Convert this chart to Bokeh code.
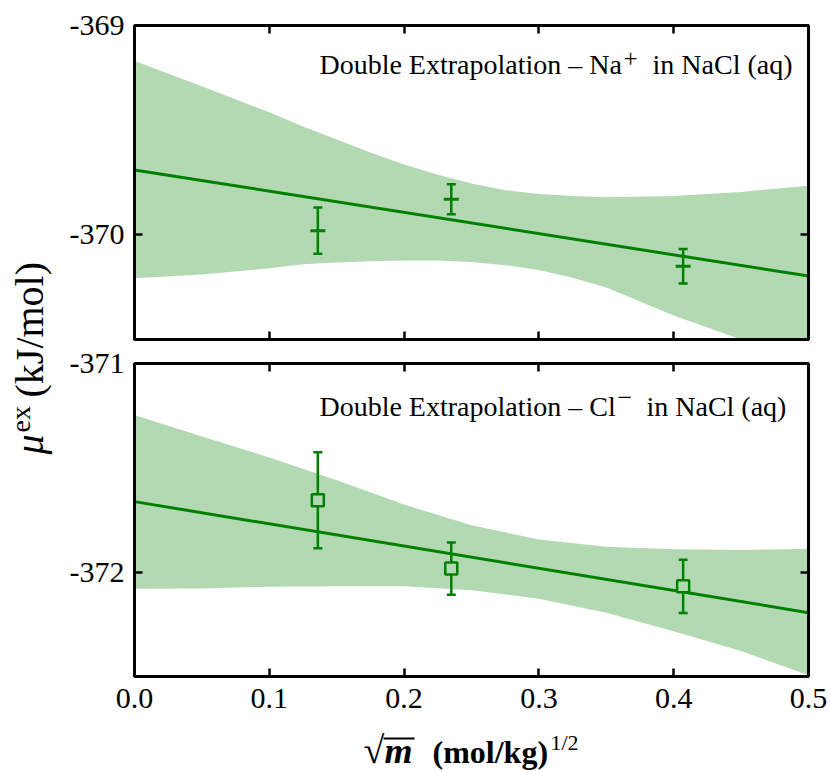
from bokeh.plotting import figure
from bokeh.models import Range1d, LinearAxis, FixedTicker, Label
from bokeh.layouts import row, column
from bokeh.embed import file_html
from bokeh.resources import INLINE

# ---------------- data ----------------
x_ticks = [0.0, 0.1, 0.2, 0.3, 0.4, 0.5]
x_tick_labels = ["0.0", "0.1", "0.2", "0.3", "0.4", "0.5"]
y_ticks_na = [-370.0, -369.0]
y_tick_labels_na = ["-370", "-369"]
y_ticks_cl = [-372.0, -371.0]
y_tick_labels_cl = ["-372", "-371"]

sqrt_m = [0.136, 0.235, 0.407]

mu_na = [-369.98, -369.83, -370.15]
err_na = [0.11, 0.072, 0.082]
mu_cl = [-371.655, -371.983, -372.068]
err_cl = [0.23, 0.125, 0.128]

fit_x = [0.0, 0.5]
fit_na = [-369.69, -370.197]
fit_cl = [-371.662, -372.194]

na_band_x = [0.0, 0.05, 0.1, 0.125, 0.15, 0.175, 0.2, 0.225, 0.25, 0.275, 0.3, 0.325, 0.35, 0.4, 0.45, 0.5]
na_upper = [-369.17, -369.29, -369.415, -369.482, -369.545, -369.607, -369.664, -369.713, -369.755, -369.787,
            -369.805, -369.815, -369.82, -369.815, -369.795, -369.765]
na_lower = [-370.208, -370.19, -370.16, -370.14, -370.132, -370.126, -370.123, -370.123, -370.13, -370.145,
            -370.168, -370.205, -370.252, -370.385, -370.50, -370.63]

cl_band_x = [0.0, 0.05, 0.1, 0.15, 0.2, 0.25, 0.3, 0.35, 0.4, 0.45, 0.5]
cl_upper = [-371.247, -371.35, -371.45, -371.56, -371.676, -371.775, -371.843, -371.878, -371.89, -371.894, -371.888]
cl_lower = [-372.08, -372.078, -372.07, -372.068, -372.067, -372.087, -372.127, -372.194, -372.283, -372.378, -372.494]

GREEN = "#008000"
SERIF = "Liberation Serif"
BASE = 0.32  # lift that puts a Label's visible baseline where it is asked for


def add_axes(p, y_ticks, y_labels, show_x_labels):
    specs = [
        ("left", y_ticks, dict(zip(y_ticks, y_labels)), True),
        ("right", y_ticks, {}, False),
        ("above", x_ticks, {}, False),
        ("below", x_ticks, dict(zip(x_ticks, x_tick_labels)), show_x_labels),
    ]
    for loc, ticks, overrides, labelled in specs:
        ax = LinearAxis(ticker=FixedTicker(ticks=ticks))
        ax.major_tick_in = 8
        ax.major_tick_out = 0
        ax.major_tick_line_width = 2.5
        ax.major_tick_line_color = "black"
        ax.minor_tick_line_color = None
        ax.axis_line_color = "black"
        ax.axis_line_width = 3
        if labelled:
            ax.major_label_overrides = overrides
            ax.major_label_text_font = SERIF
            ax.major_label_text_font_size = "30px"
            ax.major_label_text_color = "black"
            ax.major_label_standoff = 12 if loc == "below" else 10
        else:
            ax.major_label_text_font_size = "0px"
            ax.major_label_text_color = None
            ax.major_label_standoff = 0
        p.add_layout(ax, loc)


def make_panel(height, y_range, border_top, border_bottom, y_ticks, y_labels, show_x_labels):
    p = figure(width=772, height=height, x_range=Range1d(0.0, 0.5), y_range=y_range,
               output_backend="svg", toolbar_location=None,
               x_axis_location=None, y_axis_location=None,
               min_border_left=76, min_border_right=22,
               min_border_top=border_top, min_border_bottom=border_bottom)
    p.outline_line_color = "black"
    p.outline_line_width = 3
    p.background_fill_color = "white"
    p.border_fill_color = "white"
    p.grid.visible = False
    add_axes(p, y_ticks, y_labels, show_x_labels)
    return p


def add_annotation(p, y, first, sup, sup_size, sup_dy, xs):
    style = dict(text_font=SERIF, text_color="black", text_baseline="alphabetic", text_align="left")
    p.add_layout(Label(x=xs[0], y=y, y_offset=BASE * 28, text=first, text_font_size="28px", **style))
    p.add_layout(Label(x=xs[1], y=y, y_offset=sup_dy + BASE * sup_size, text=sup,
                       text_font_size="%dpx" % sup_size, **style))
    p.add_layout(Label(x=xs[2], y=y, y_offset=BASE * 28, text="in NaCl (aq)", text_font_size="28px", **style))


# ---------------- top panel (Na+) ----------------
top = make_panel(344, Range1d(-370.5, -369.0), 25, 5, y_ticks_na, y_tick_labels_na, False)
top.varea(x=na_band_x, y1=na_lower, y2=na_upper, fill_color=GREEN, fill_alpha=0.3)
top.line(fit_x, fit_na, line_color=GREEN, line_width=3)
na_lo = [m - e for m, e in zip(mu_na, err_na)]
na_hi = [m + e for m, e in zip(mu_na, err_na)]
top.segment(x0=sqrt_m, y0=na_lo, x1=sqrt_m, y1=na_hi, line_color=GREEN, line_width=2.5)
top.scatter(sqrt_m, na_lo, marker="dash", size=9, line_color=GREEN, line_width=2.5)
top.scatter(sqrt_m, na_hi, marker="dash", size=9, line_color=GREEN, line_width=2.5)
top.scatter(sqrt_m, mu_na, marker="dash", size=15, line_color=GREEN, line_width=3)
add_annotation(top, -369.23, "Double Extrapolation \u2013 Na", "+", 25, 7,
               [0.1372, 0.3628, 0.3843])

# ---------------- bottom panel (Cl-) ----------------
bottom = make_panel(382, Range1d(-372.5, -371.0), 19, 50, y_ticks_cl, y_tick_labels_cl, True)
bottom.varea(x=cl_band_x, y1=cl_lower, y2=cl_upper, fill_color=GREEN, fill_alpha=0.3)
bottom.line(fit_x, fit_cl, line_color=GREEN, line_width=3)
cl_lo = [m - e for m, e in zip(mu_cl, err_cl)]
cl_hi = [m + e for m, e in zip(mu_cl, err_cl)]
bottom.segment(x0=sqrt_m, y0=cl_lo, x1=sqrt_m, y1=cl_hi, line_color=GREEN, line_width=2.5)
bottom.scatter(sqrt_m, cl_lo, marker="dash", size=9, line_color=GREEN, line_width=2.5)
bottom.scatter(sqrt_m, cl_hi, marker="dash", size=9, line_color=GREEN, line_width=2.5)
bottom.scatter(sqrt_m, mu_cl, marker="square", size=12, line_color=GREEN, line_width=2.5,
               fill_color="#b3d9b3")
add_annotation(bottom, -371.249, "Double Extrapolation \u2013 Cl", "\u2212", 26, 10,
               [0.1372, 0.3583, 0.3798])


def blank_fig(w, h, x0, x1):
    f = figure(width=w, height=h, x_range=Range1d(x0, x1), y_range=Range1d(0, h),
               output_backend="svg", toolbar_location=None,
               x_axis_location=None, y_axis_location=None,
               min_border=0, min_border_left=0, min_border_right=0,
               min_border_top=0, min_border_bottom=0)
    f.outline_line_color = None
    f.grid.visible = False
    f.background_fill_color = "white"
    f.border_fill_color = "white"
    return f


# ---------------- y label ----------------
ylab = blank_fig(58, 772, 0, 58)
ang = 1.5707963267948966
ystyle = dict(text_font=SERIF, text_baseline="alphabetic", text_align="left", text_color="black", angle=ang)
ylab.add_layout(Label(x=42 - BASE * 40, y=318, text="\u03bc", text_font_style="italic",
                      text_font_size="40px", **ystyle))
ylab.add_layout(Label(x=28.5 - BASE * 28, y=340, text="ex", text_font_size="28px", **ystyle))
ylab.add_layout(Label(x=42 - BASE * 40, y=375, text="(kJ/mol)", text_font_size="40px", **ystyle))

# ---------------- x label ----------------
# its frame is aligned with the panels' frames (page x 134..808), so x is given in page pixels
xlab = blank_fig(772, 46, 134, 808)
xstyle = dict(text_font=SERIF, text_baseline="alphabetic", text_align="left", text_color="black")
xlab.add_layout(Label(x=363, y=10 + BASE * 38, text="\u221a", text_font_style="bold",
                      text_font_size="38px", **xstyle))
xlab.add_layout(Label(x=384, y=10 + BASE * 36, text="m", text_font_style="bold italic",
                      text_font_size="36px", **xstyle))
xlab.line([383, 414], [34, 34], line_color="black", line_width=2)
xlab.add_layout(Label(x=432, y=10 + BASE * 32, text="(mol/kg)", text_font_style="bold",
                      text_font_size="32px", **xstyle))
xlab.add_layout(Label(x=550, y=23 + BASE * 22, text="1/2", text_font_size="22px", **xstyle))

layout = row(ylab, column(top, bottom, xlab))

open("out.html", "w").write(file_html(layout, INLINE))
